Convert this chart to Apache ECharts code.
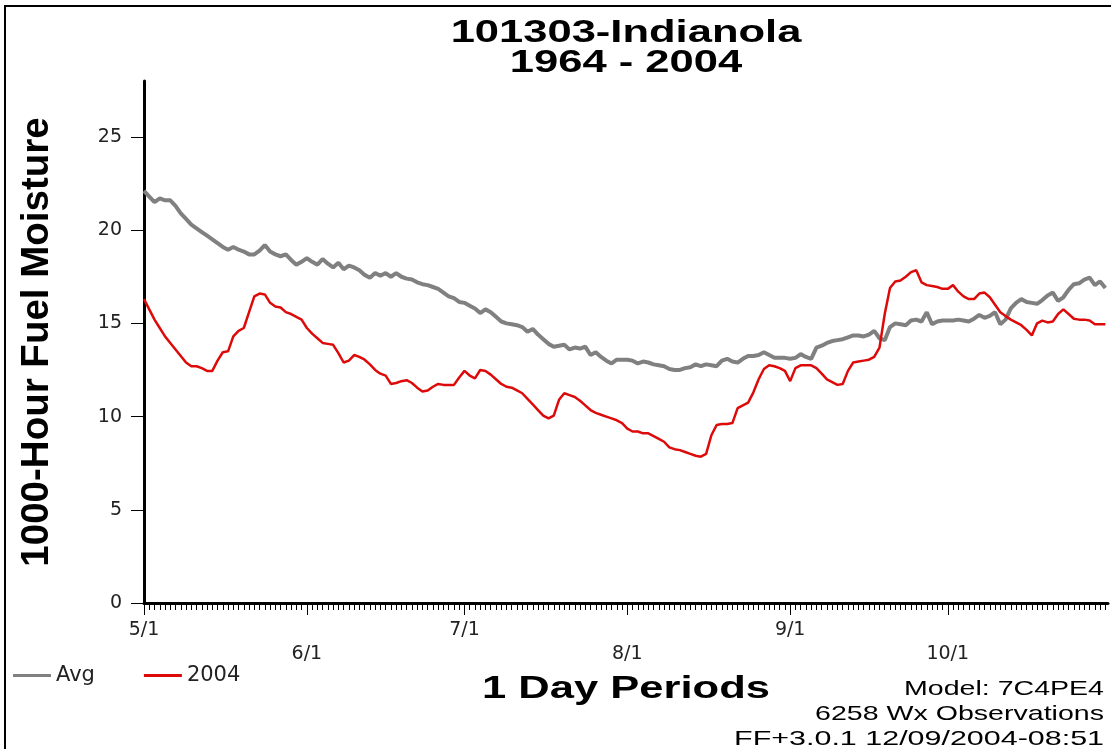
<!DOCTYPE html>
<html>
<head>
<meta charset="utf-8">
<script src="https://cdn.jsdelivr.net/npm/echarts@6/dist/echarts.min.js"></script>
<style>
  html, body { margin: 0; padding: 0; background: #fff; }
  #chart { width: 1111px; height: 749px; }
</style>
</head>
<body>
<div id="chart"></div>
<script>
// Day 0 = May 1; one value per day through Oct 31.
const monthStarts = [0, 31, 61, 92, 123, 153];
const monthLabels = ['5/1', '6/1', '7/1', '8/1', '9/1', '10/1'];
const yTicks = [0, 5, 10, 15, 20, 25];

// 1000-hour fuel moisture, 1964-2004 average
const avg = [
  22.1, 21.8, 21.5, 21.7, 21.6, 21.6, 21.3, 20.9, 20.6, 20.3,
  20.1, 19.9, 19.7, 19.5, 19.3, 19.1, 18.95, 19.1, 18.95, 18.85,
  18.7, 18.7, 18.9, 19.2, 18.85, 18.7, 18.6, 18.7, 18.4, 18.15,
  18.3, 18.5, 18.3, 18.15, 18.45, 18.2, 18.0, 18.25, 17.9, 18.1,
  18.0, 17.85, 17.6, 17.45, 17.7, 17.55, 17.7, 17.5, 17.7, 17.5,
  17.4, 17.35, 17.2, 17.1, 17.05, 16.95, 16.85, 16.65, 16.45, 16.35,
  16.15, 16.1, 15.95, 15.8, 15.55, 15.75, 15.6, 15.35, 15.1, 15.0,
  14.95, 14.9, 14.8, 14.55, 14.7, 14.4, 14.15, 13.9, 13.75, 13.8,
  13.85, 13.6, 13.7, 13.65, 13.75, 13.3, 13.45, 13.2, 13.0, 12.85,
  13.05, 13.05, 13.05, 13.0, 12.85, 12.95, 12.9, 12.8, 12.75, 12.7,
  12.55, 12.5, 12.5, 12.6, 12.65, 12.8, 12.7, 12.8, 12.75, 12.7,
  13.0, 13.1, 12.95, 12.9, 13.1, 13.25, 13.25, 13.3, 13.45, 13.3,
  13.15, 13.15, 13.15, 13.1, 13.15, 13.35, 13.2, 13.1, 13.7, 13.8,
  13.95, 14.05, 14.1, 14.15, 14.25, 14.35, 14.35, 14.3, 14.4, 14.6,
  14.2, 14.1, 14.8, 15.0, 14.95, 14.9, 15.15, 15.2, 15.1, 15.6,
  14.95, 15.1, 15.15, 15.15, 15.15, 15.2, 15.15, 15.1, 15.25, 15.45,
  15.3, 15.4, 15.6, 14.95, 15.2, 15.8, 16.1, 16.3, 16.15, 16.1,
  16.05, 16.25, 16.5, 16.65, 16.2, 16.4, 16.8, 17.1, 17.15, 17.35,
  17.45, 17.05, 17.25, 16.9
];

// 1000-hour fuel moisture, 2004 season
const y2004 = [
  16.3, 15.75, 15.2, 14.75, 14.3, 13.95, 13.6, 13.25, 12.9, 12.7,
  12.7, 12.6, 12.45, 12.45, 13.0, 13.45, 13.5, 14.3, 14.6, 14.75,
  15.6, 16.45, 16.6, 16.55, 16.1, 15.9, 15.85, 15.6, 15.5, 15.35,
  15.2, 14.75, 14.45, 14.2, 13.95, 13.9, 13.85, 13.4, 12.9, 13.0,
  13.3, 13.2, 13.05, 12.8, 12.5, 12.3, 12.2, 11.75, 11.8, 11.9,
  11.95, 11.8, 11.55, 11.35, 11.4, 11.6, 11.75, 11.7, 11.7, 11.7,
  12.1, 12.45, 12.2, 12.05, 12.5, 12.45, 12.25, 12.0, 11.75, 11.6,
  11.55, 11.4, 11.25, 10.95, 10.65, 10.35, 10.05, 9.9, 10.05, 10.9,
  11.25, 11.15, 11.05, 10.85, 10.6, 10.35, 10.2, 10.1, 10.0, 9.9,
  9.8, 9.65, 9.35, 9.2, 9.2, 9.1, 9.1, 8.95, 8.8, 8.65,
  8.35, 8.25, 8.2, 8.1, 8.0, 7.9, 7.85, 8.0, 9.0, 9.55,
  9.6, 9.6, 9.65, 10.45, 10.6, 10.75, 11.3, 12.0, 12.55, 12.75,
  12.7, 12.6, 12.45, 11.9, 12.6, 12.75, 12.75, 12.75, 12.6, 12.3,
  12.0, 11.85, 11.7, 11.75, 12.45, 12.9, 12.95, 13.0, 13.05, 13.2,
  13.7, 15.5, 16.9, 17.25, 17.3, 17.5, 17.75, 17.85, 17.2, 17.05,
  17.0, 16.95, 16.85, 16.85, 17.05, 16.7, 16.45, 16.3, 16.3, 16.6,
  16.65, 16.4, 16.0, 15.6, 15.4, 15.2, 15.05, 14.9, 14.65, 14.35,
  15.0, 15.15, 15.05, 15.1, 15.5, 15.75, 15.5, 15.25, 15.2, 15.2,
  15.15, 14.95, 14.95, 14.95
];

const days = avg.map((_, i) => i);
const SANS = '"Liberation Sans", Arial, sans-serif';
const LABEL_FONT = '"DejaVu Sans", Verdana, sans-serif';
const WIDE = 1.36; // horizontal stretch of the header/footer lettering

const chart = echarts.init(document.getElementById('chart'), null, { renderer: 'canvas' });

function headerText(text, x, y, size, weight, align, stretch) {
  return {
    type: 'text', x: x, y: y, scaleX: stretch || WIDE, z: 10, silent: true,
    style: {
      text: text,
      font: weight + ' ' + size + 'px ' + SANS,
      fill: '#000',
      align: align, textAlign: align,
      verticalAlign: 'middle', textVerticalAlign: 'middle'
    }
  };
}

chart.setOption({
  animation: false,
  backgroundColor: '#fff',
  grid: { left: 144, right: 3, top: 81, bottom: 146, containLabel: false, outerBoundsMode: 'none' },
  legend: {
    left: 8, top: 660,
    icon: 'rect',
    itemWidth: 38, itemHeight: 3, itemGap: 49,
    selectedMode: false,
    data: ['Avg', '2004'],
    textStyle: { fontFamily: LABEL_FONT, fontSize: 21, color: '#222' }
  },
  xAxis: [
    {
      type: 'value', min: 0, max: 183.5, position: 'bottom',
      axisLine: { show: true, onZero: false, lineStyle: { color: '#000', width: 3 } },
      axisTick: { show: true, customValues: days, length: 7, lineStyle: { color: '#000', width: 1 } },
      axisLabel: { show: false },
      splitLine: { show: false }
    },
    {
      type: 'value', min: 0, max: 183.5, position: 'bottom',
      axisLine: { show: false, onZero: false },
      axisTick: { show: true, customValues: monthStarts, length: 12, lineStyle: { color: '#000', width: 1 } },
      axisLabel: {
        show: true,
        customValues: monthStarts,
        margin: 15,
        fontFamily: LABEL_FONT, fontSize: 19, lineHeight: 24, color: '#222',
        hideOverlap: false,
        formatter: function (v) {
          const i = monthStarts.indexOf(v);
          if (i < 0) return '';
          return (i % 2 === 0 ? '' : '\n') + monthLabels[i];
        }
      },
      splitLine: { show: false }
    }
  ],
  yAxis: {
    type: 'value', min: 0, max: 28,
    name: '1000-Hour Fuel Moisture',
    nameLocation: 'middle', nameRotate: 90, nameGap: 87,
    nameTextStyle: { fontFamily: SANS, fontWeight: 'bold', fontSize: 38.5, color: '#000' },
    axisLine: { show: true, onZero: false, lineStyle: { color: '#000', width: 3 } },
    axisTick: { show: true, customValues: yTicks, length: 13, lineStyle: { color: '#000', width: 1 } },
    axisLabel: {
      customValues: yTicks,
      margin: 22,
      fontFamily: LABEL_FONT, fontSize: 19, color: '#222',
      verticalAlign: 'middle', padding: [0, 0, 12, 0]
    },
    splitLine: { show: false }
  },
  series: [
    {
      name: 'Avg', type: 'line', xAxisIndex: 0, symbol: 'none',
      data: avg.map((v, i) => [days[i], v]),
      lineStyle: { color: '#808080', width: 4 },
      itemStyle: { color: '#808080' },
      z: 2
    },
    {
      name: '2004', type: 'line', xAxisIndex: 0, symbol: 'none',
      data: y2004.map((v, i) => [days[i], v]),
      lineStyle: { color: '#dd0a0a', width: 2.5 },
      itemStyle: { color: '#dd0a0a' },
      z: 3
    }
  ],
  graphic: [
    {
      type: 'rect', silent: true, z: 0,
      shape: { x: 5, y: 6, width: 1130, height: 770 },
      style: { fill: 'none', stroke: '#000', lineWidth: 2 }
    },
    headerText('101303-Indianola', 626, 33, 32, 'bold', 'center'),
    headerText('1964 - 2004', 626, 63, 32, 'bold', 'center'),
    headerText('1 Day Periods', 626, 689, 32, 'bold', 'center'),
    headerText('Model: 7C4PE4', 1104, 689, 21, 'normal', 'right'),
    headerText('6258 Wx Observations', 1104, 714, 21, 'normal', 'right'),
    headerText('FF+3.0.1 12/09/2004-08:51', 1104, 739, 21, 'normal', 'right', 1.45)
  ]
});
</script>
</body>
</html>
